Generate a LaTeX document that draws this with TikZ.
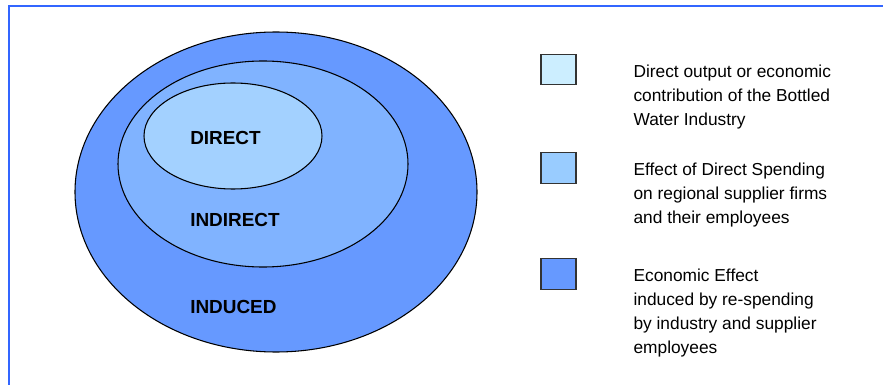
\documentclass[tikz,border=0pt]{standalone}
\usepackage{fontspec}
\setmainfont{Liberation Sans}
\usetikzlibrary{positioning}
\definecolor{frameblue}{HTML}{3366FF}
\definecolor{inducedblue}{HTML}{6699FF}
\definecolor{indirectblue}{HTML}{80B3FF}
\definecolor{directblue}{HTML}{A3D1FF}
\definecolor{directkey}{HTML}{CCEEFF}
\definecolor{indirectkey}{HTML}{99CCFF}

\begin{document}
\begin{tikzpicture}[
    x=0.75pt, y=-0.75pt,
    ring/.style={draw=black, line width=0.8pt},
    zone/.style={inner sep=0pt, anchor=west, font=\fontsize{14.2}{16}\selectfont\bfseries},
    keybox/.style={draw=black!80, line width=0.9pt, minimum width=26.25pt, minimum height=23pt, inner sep=0pt},
    keytext/.style={inner sep=0pt, anchor=north west, align=left, font=\fontsize{13}{18}\selectfont},
    frame/.style={draw=frameblue, line width=1.6pt}
]
\useasboundingbox (0,0) rectangle (883,385);
\draw[frame] (883,6) -- (9,6) -- (9,385);

% nested rings
\draw[ring, fill=inducedblue] (276,192) ellipse [x radius=201, y radius=160];
\draw[ring, fill=indirectblue] (263,164) ellipse [x radius=145, y radius=103];
\draw[ring, fill=directblue] (233,136) ellipse [x radius=89, y radius=53];

\node[zone] (direct) at (190,138) {DIRECT};
\node[zone] (indirect) at (190,220) {INDIRECT};
\node[zone] (induced) at (190,307) {INDUCED};

% legend
\node[keybox, fill=directkey] (k1) at (558.5,69.5) {};
\node[keybox, fill=indirectkey, below=50pt of k1] (k2) {};
\node[keybox, fill=inducedblue, below=55.5pt of k2] (k3) {};

\node[keytext] (t1) at ([xshift=42.5pt, yshift=-8pt]k1.north east) {Direct output or economic\\contribution of the Bottled\\Water Industry};
\node[keytext] (t2) at ([xshift=42.5pt, yshift=-8pt]k2.north east) {Effect of Direct Spending\\on regional supplier firms\\and their employees};
\node[keytext] (t3) at ([xshift=42.5pt, yshift=-8pt]k3.north east) {Economic Effect\\induced by re-spending\\by industry and supplier\\employees};
\end{tikzpicture}
\end{document}
